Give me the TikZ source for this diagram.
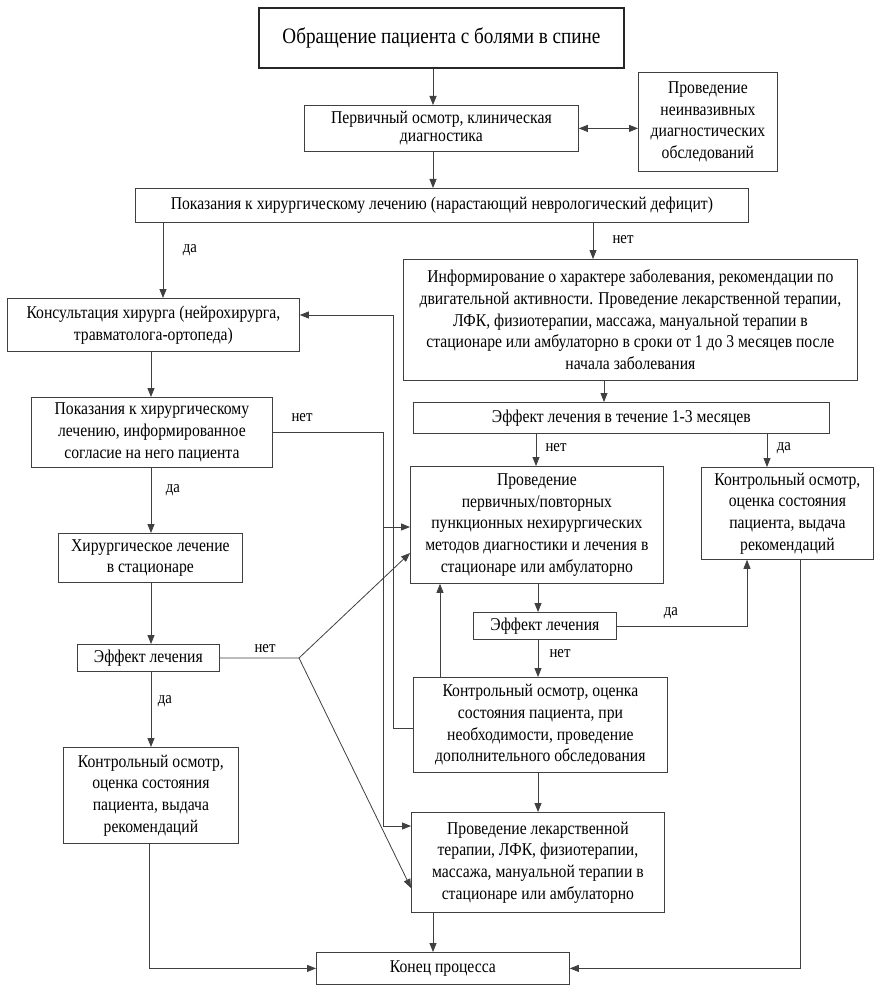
\documentclass[tikz,border=0pt]{standalone}
\usepackage{fontspec}
\setmainfont{Liberation Serif}[FakeStretch=0.87]
\usetikzlibrary{arrows.meta}
\begin{document}
\begin{tikzpicture}[x=1pt,y=-1pt,
 box/.style={draw=black!75, line width=0.8pt, inner sep=0pt, align=center, anchor=north west, font=\fontsize{18}{21.7}\selectfont},
 ln/.style={draw=black!75, line width=0.8pt},
 arr/.style={ln, -{Triangle[length=9pt,width=7pt]}},
 lbl/.style={font=\fontsize{17}{20}\selectfont, inner sep=0pt}]
\useasboundingbox[fill=white] (0,0) rectangle (882,992);

% columns and rows
\coordinate (cA) at (433,0);
\coordinate (c163) at (163,0);
\coordinate (c593) at (593,0);
\coordinate (c151) at (151,0);
\coordinate (c149) at (149,0);
\coordinate (c383) at (383,0);
\coordinate (c393) at (393,0);
\coordinate (c604) at (604,0);
\coordinate (c536) at (536,0);
\coordinate (c538) at (538,0);
\coordinate (c767) at (767,0);
\coordinate (c747) at (747,0);
\coordinate (c440) at (440,0);
\coordinate (c800) at (800,0);
\coordinate (y315) at (0,315);
\coordinate (y527) at (0,527);
\coordinate (y553) at (0,553);
\coordinate (y728) at (0,728);
\coordinate (y826) at (0,826);
\coordinate (y888) at (0,888);
\coordinate (br) at (299,658);

% boxes
\node[box, line width=1.8pt, draw=black!85, minimum width=365, minimum height=60, font=\fontsize{22}{25}\selectfont] (b1) at (258,7) {Обращение пациента с болями в спине};
\node[box, minimum width=274, minimum height=46, font=\fontsize{18}{18}\selectfont] (b2) at (304,105) {Первичный осмотр, клиническая\\диагностика};
\node[box, minimum width=139, minimum height=99] (b3) at (638,72) {Проведение\\неинвазивных\\диагностических\\обследований};
\node[box, minimum width=613, minimum height=34] (b4) at (135,188) {Показания к хирургическому лечению (нарастающий неврологический дефицит)};
\node[box, minimum width=292, minimum height=53] (b5) at (7,298) {Консультация хирурга (нейрохирурга,\\травматолога-ортопеда)};
\node[box, minimum width=241, minimum height=70] (b6) at (31,397) {Показания к хирургическому\\лечению, информированное\\согласие на него пациента};
\node[box, minimum width=253, minimum height=117] (b7) at (410,466) {Проведение\\первичных/повторных\\пункционных нехирургических\\методов диагностики и лечения в\\стационаре или амбулаторно};
\node[box, minimum width=454, minimum height=121] (b8) at (403,259) {Информирование о характере заболевания, рекомендации по\\двигательной активности. Проведение лекарственной терапии,\\ЛФК, физиотерапии, массажа, мануальной терапии в\\стационаре или амбулаторно в сроки от 1 до 3 месяцев после\\начала заболевания};
\node[box, minimum width=416, minimum height=31] (b9) at (413,402) {Эффект лечения в течение 1-3 месяцев};
\node[box, minimum width=172, minimum height=92] (b10) at (701,467) {Контрольный осмотр,\\оценка состояния\\пациента, выдача\\рекомендаций};
\node[box, minimum width=184, minimum height=49] (b11) at (58,533) {Хирургическое лечение\\в стационаре};
\node[box, minimum width=142, minimum height=27] (b12) at (77,644) {Эффект лечения};
\node[box, minimum width=175, minimum height=96] (b13) at (63,747) {Контрольный осмотр,\\оценка состояния\\пациента, выдача\\рекомендаций};
\node[box, minimum width=254, minimum height=95] (b14) at (413,677) {Контрольный осмотр, оценка\\состояния пациента, при\\необходимости, проведение\\дополнительного обследования};
\node[box, minimum width=143, minimum height=27] (b15) at (473,612) {Эффект лечения};
\node[box, minimum width=253, minimum height=100] (b16) at (411,812) {Проведение лекарственной\\терапии, ЛФК, физиотерапии,\\массажа, мануальной терапии в\\стационаре или амбулаторно};
\node[box, minimum width=253, minimum height=32] (b17) at (316,952) {Конец процесса};

% labels
\node[lbl] (l1) at (190,250) {да};
\node[lbl] (l2) at (623,240) {нет};
\node[lbl] (l3) at (302,418) {нет};
\node[lbl] (l4) at (173,490) {да};
\node[lbl] (l5) at (265,649) {нет};
\node[lbl] (l6) at (165,701) {да};
\node[lbl] (l7) at (556,448) {нет};
\node[lbl] (l8) at (784,448) {да};
\node[lbl] (l9) at (671,613) {да};
\node[lbl] (l10) at (560,654) {нет};

% connectors
\draw[arr] (b1.south -| cA) -- (b2.north -| cA);
\draw[ln, {Triangle[length=9pt,width=7pt]}-{Triangle[length=9pt,width=7pt]}] (b2.east) -- (b2.east -| b3.west);
\draw[arr] (b2.south -| cA) -- (b4.north -| cA);
\draw[arr] (b4.south -| c163) -- (b5.north -| c163);
\draw[arr] (b4.south -| c593) -- (b8.north -| c593);
\draw[arr] (b5.south -| c151) -- (b6.north -| c151);
\draw[ln] (b6.east) -- (b6.east -| c383) -- (y527 -| c383);
\draw[arr] (y527 -| c383) -- (y527 -| b7.west);
\draw[arr] (y527 -| c383) -- (y826 -| c383) -- (y826 -| b16.west);
\draw[arr] (b6.south -| c151) -- (b11.north -| c151);
\draw[arr] (b11.south -| c151) -- (b12.north -| c151);
\draw[ln] (b12.east) -- (br);
\draw[arr] (br) -- (y553 -| b7.west);
\draw[arr] (br) -- (y888 -| b16.west);
\draw[arr] (b12.south -| c151) -- (b13.north -| c151);
\draw[arr] (b13.south -| c149) |- (b17.west);
\draw[arr] (b8.south -| c604) -- (b9.north -| c604);
\draw[arr] (b9.south -| c536) -- (b7.north -| c536);
\draw[arr] (b9.south -| c767) -- (b10.north -| c767);
\draw[arr] (b7.south -| c538) -- (b15.north -| c538);
\draw[arr] (b15.east) -| (b10.south -| c747);
\draw[arr] (b15.south -| c538) -- (b14.north -| c538);
\draw[arr] (b14.north -| c440) -- (b7.south -| c440);
\draw[arr] (b14.west |- y728) -- (y728 -| c393) -- (y315 -| c393) -- (y315 -| b5.east);
\draw[arr] (b14.south -| c538) -- (b16.north -| c538);
\draw[arr] (b10.south -| c800) |- (b17.east);
\draw[arr] (b16.south -| cA) -- (b17.north -| cA);
\end{tikzpicture}
\end{document}
